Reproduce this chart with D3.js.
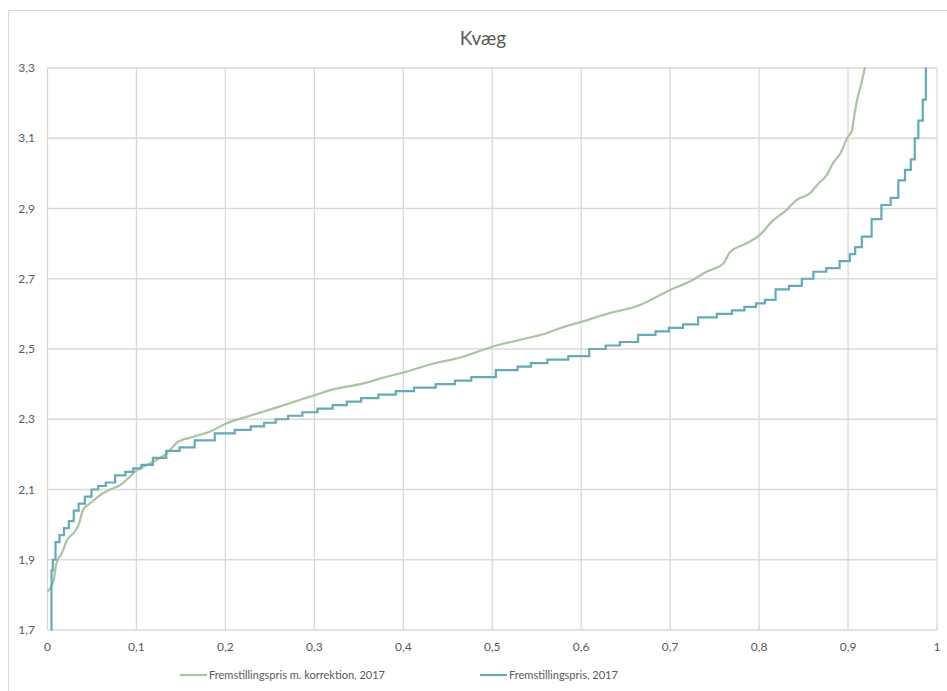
<!DOCTYPE html>
<html lang="da">
	<head>
		<meta charset="utf-8">
		<title>Kvæg</title>
		<script type="text/javascript" src="https://d3js.org/d3.v7.min.js"></script>
		<style type="text/css">
			body { margin: 0; background: #fff; }
			text { font-family: Lato, "Open Sans", sans-serif; fill: #595959; }
		</style>
	</head>
	<body>
		<script type="text/javascript">

			//Width and height
			var w = 947;
			var h = 691;

			var title = "Kvæg";
			var xTicks = [0, 0.1, 0.2, 0.3, 0.4, 0.5, 0.6, 0.7, 0.8, 0.9, 1];
			var yTicks = [1.7, 1.9, 2.1, 2.3, 2.5, 2.7, 2.9, 3.1, 3.3];
			var seriesNames = ["Fremstillingspris m. korrektion, 2017", "Fremstillingspris, 2017"];
			var seriesColors = ["#a9c4a1", "#67a9b9"];

			// andel (x) og pris (y)
			var korrX = [0, 0.007, 0.010, 0.016, 0.022, 0.029, 0.035, 0.040, 0.048, 0.057, 0.068, 0.082,
				0.100, 0.119, 0.134, 0.147, 0.164, 0.183, 0.201, 0.224, 0.243, 0.261, 0.280, 0.301, 0.318,
				0.355, 0.381, 0.400, 0.430, 0.467, 0.501, 0.531, 0.561, 0.576, 0.601, 0.632, 0.666, 0.679,
				0.700, 0.722, 0.741, 0.760, 0.767, 0.786, 0.801, 0.814, 0.831, 0.842, 0.857, 0.867, 0.876,
				0.883, 0.891, 0.900, 0.904, 0.908, 0.911, 0.915, 0.919];
			var korrY = [1.809, 1.842, 1.890, 1.918, 1.956, 1.975, 1.999, 2.042, 2.061, 2.080, 2.097, 2.113,
				2.154, 2.179, 2.203, 2.236, 2.250, 2.265, 2.288, 2.307, 2.322, 2.336, 2.352, 2.369, 2.383,
				2.402, 2.421, 2.433, 2.456, 2.478, 2.507, 2.526, 2.545, 2.559, 2.578, 2.602, 2.625, 2.641,
				2.668, 2.692, 2.720, 2.744, 2.775, 2.801, 2.825, 2.862, 2.896, 2.924, 2.943, 2.972, 2.995,
				3.029, 3.055, 3.105, 3.119, 3.180, 3.218, 3.256, 3.303];

			var prisX = [0.004, 0.005, 0.007, 0.011, 0.016, 0.021, 0.027, 0.032, 0.038, 0.046, 0.053, 0.061,
				0.070, 0.082, 0.093, 0.100, 0.111, 0.126, 0.141, 0.156, 0.175, 0.201, 0.220, 0.237, 0.250,
				0.263, 0.278, 0.295, 0.312, 0.329, 0.344, 0.361, 0.383, 0.400, 0.424, 0.449, 0.467, 0.486,
				0.522, 0.535, 0.552, 0.572, 0.599, 0.619, 0.636, 0.651, 0.677, 0.690, 0.707, 0.722, 0.741,
				0.764, 0.775, 0.792, 0.801, 0.812, 0.825, 0.842, 0.854, 0.868, 0.883, 0.898, 0.906, 0.910,
				0.921, 0.932, 0.943, 0.953, 0.960, 0.968, 0.973, 0.977, 0.981, 0.987, 0.988];
			var prisY = [1.70, 1.87, 1.90, 1.95, 1.97, 1.99, 2.01, 2.04, 2.06, 2.08, 2.10, 2.11,
				2.12, 2.14, 2.15, 2.16, 2.17, 2.19, 2.21, 2.22, 2.24, 2.26, 2.27, 2.28, 2.29,
				2.30, 2.31, 2.32, 2.33, 2.34, 2.35, 2.36, 2.37, 2.38, 2.39, 2.40, 2.41, 2.42,
				2.44, 2.45, 2.46, 2.47, 2.48, 2.50, 2.51, 2.52, 2.54, 2.55, 2.56, 2.57, 2.59,
				2.60, 2.61, 2.62, 2.63, 2.64, 2.67, 2.68, 2.70, 2.72, 2.73, 2.75, 2.77, 2.79,
				2.82, 2.87, 2.91, 2.93, 2.98, 3.01, 3.04, 3.10, 3.15, 3.21, 3.30];

			var margin = {top: 68, right: 10, bottom: 61, left: 47.5};
			var pw = 937 - margin.left;
			var ph = 630 - margin.top;

			var x = d3.scaleLinear().domain([0, 1]).range([margin.left, margin.left + pw]);
			var y = d3.scaleLinear().domain([1.7, 3.3]).range([margin.top + ph, margin.top]);
			var fmt = function(d) { return d3.format("")(+d.toFixed(1)).replace(".", ","); };

			//Create SVG element
			var svg = d3.select("body")
						.append("svg")
						.attr("width", w)
						.attr("height", h);

			// outer chart frame
			svg.append("rect")
			   .attr("x", 8.5).attr("y", 10.5)
			   .attr("width", 1000).attr("height", 1000)
			   .attr("fill", "none")
			   .attr("stroke", "#d9d9d9");

			svg.append("text")
			   .text(title)
			   .attr("x", 483).attr("y", 45)
			   .attr("text-anchor", "middle")
			   .attr("font-size", "19px");

			// grid
			svg.append("g")
			   .selectAll("line")
			   .data(xTicks)
			   .enter()
			   .append("line")
			   .attr("x1", function(d) { return x(d); })
			   .attr("x2", function(d) { return x(d); })
			   .attr("y1", y(1.7)).attr("y2", y(3.3))
			   .attr("stroke", "#d9d9d9").attr("stroke-width", 1.3);

			svg.append("g")
			   .selectAll("line")
			   .data(yTicks)
			   .enter()
			   .append("line")
			   .attr("y1", function(d) { return y(d); })
			   .attr("y2", function(d) { return y(d); })
			   .attr("x1", x(0)).attr("x2", x(1))
			   .attr("stroke", "#d9d9d9").attr("stroke-width", 1.3);

			// tick labels
			svg.append("g")
			   .selectAll("text")
			   .data(xTicks)
			   .enter()
			   .append("text")
			   .text(fmt)
			   .attr("x", function(d) { return x(d); })
			   .attr("y", 651)
			   .attr("text-anchor", "middle")
			   .attr("font-size", "12px");

			svg.append("g")
			   .selectAll("text")
			   .data(yTicks)
			   .enter()
			   .append("text")
			   .text(fmt)
			   .attr("x", 35)
			   .attr("y", function(d) { return y(d) + 4; })
			   .attr("text-anchor", "end")
			   .attr("font-size", "12px");

			// lines
			var korr = korrX.map(function(d, i) { return [d, korrY[i]]; });
			var pris = prisX.map(function(d, i) { return [d, prisY[i]]; });

			var line = d3.line()
			   .x(function(d) { return x(d[0]); })
			   .y(function(d) { return y(d[1]); });

			svg.append("path")
			   .datum(korr)
			   .attr("d", line.curve(d3.curveMonotoneX))
			   .attr("fill", "none")
			   .attr("stroke", seriesColors[0])
			   .attr("stroke-width", 2.2);

			svg.append("path")
			   .datum(pris)
			   .attr("d", line.curve(d3.curveStep))
			   .attr("fill", "none")
			   .attr("stroke", seriesColors[1])
			   .attr("stroke-width", 2.2);

			// legend
			var legendX = [180, 480];
			var legend = svg.append("g")
			   .selectAll("g")
			   .data(seriesNames)
			   .enter()
			   .append("g")
			   .attr("transform", function(d, i) { return "translate(" + legendX[i] + ",675)"; });

			legend.append("line")
			   .attr("x1", 0).attr("x2", 27)
			   .attr("stroke", function(d, i) { return seriesColors[i]; })
			   .attr("stroke-width", 2.2);

			legend.append("text")
			   .text(function(d) { return d; })
			   .attr("x", 29).attr("y", 4)
			   .attr("font-size", "11px");

		</script>
	</body>
</html>
